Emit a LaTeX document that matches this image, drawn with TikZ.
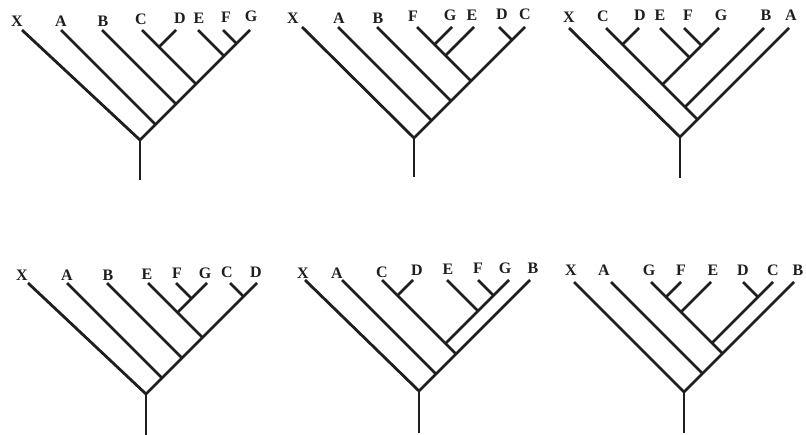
\documentclass[tikz,border=0pt]{standalone}
\usepackage{fontspec}
\setmainfont{Liberation Serif}
\definecolor{ink}{HTML}{1E1E1E}
\begin{document}
\begin{tikzpicture}[x=0.75pt,y=-0.75pt,
  br/.style={line width=2.1pt, draw=ink},
  lab/.style={font=\fontsize{12}{14}\selectfont\bfseries, inner sep=0pt, text=ink}]
\useasboundingbox (0,0) rectangle (806,435);
\fill[white] (0,0) rectangle (806,435);

% ---------- Tree 1 ----------
\foreach \n/\x in {X/22,A/61,B/102,C/142,D/176,E/198,F/223,G/250}
  \coordinate (a\n) at (\x,30);
\coordinate (ar) at (140,140);
\coordinate (as) at (140,180);
\coordinate (ajA) at (155.5,124.5);
\coordinate (ajB) at (176,104);
\coordinate (ajC) at (196,84);
\coordinate (ajD) at (159,47);
\coordinate (ajE) at (224,56);
\coordinate (ajF) at (236.5,43.5);
\draw[br] (aX) -- (ar);
\draw[br] (aG) -- (ar);
\draw[br] (aA) -- (ajA);
\draw[br] (aB) -- (ajB);
\draw[br] (aC) -- (ajC);
\draw[br] (aD) -- (ajD);
\draw[br] (aE) -- (ajE);
\draw[br] (aF) -- (ajF);
\draw[br] (ar) -- (as);
\node[lab] (laX) at (17,21) {X};
\node[lab] (laA) at (61,21) {A};
\node[lab] (laB) at (103,21) {B};
\node[lab] (laC) at (141,19) {C};
\node[lab] (laD) at (180,18) {D};
\node[lab] (laE) at (199,18) {E};
\node[lab] (laF) at (226,17) {F};
\node[lab] (laG) at (251,16) {G};

% ---------- Tree 2 ----------
\foreach \n/\x in {X/302,A/338,B/377,F/417,G/452,E/474,D/499,C/525}
  \coordinate (b\n) at (\x,27);
\coordinate (br) at (414,138);
\coordinate (bs) at (414,177);
\coordinate (bjA) at (431.5,120.5);
\coordinate (bjB) at (451,101);
\coordinate (bjF) at (471,81);
\coordinate (bjG) at (434.5,44.5);
\coordinate (bjE) at (445.5,55.5);
\coordinate (bjD) at (512,40);
\draw[br] (bX) -- (br);
\draw[br] (bC) -- (br);
\draw[br] (bA) -- (bjA);
\draw[br] (bB) -- (bjB);
\draw[br] (bF) -- (bjF);
\draw[br] (bG) -- (bjG);
\draw[br] (bE) -- (bjE);
\draw[br] (bD) -- (bjD);
\draw[br] (br) -- (bs);
\node[lab] (lbX) at (293,18) {X};
\node[lab] (lbA) at (339,18) {A};
\node[lab] (lbB) at (378,18) {B};
\node[lab] (lbF) at (413,16) {F};
\node[lab] (lbG) at (450,15) {G};
\node[lab] (lbE) at (472,15) {E};
\node[lab] (lbD) at (502,14) {D};
\node[lab] (lbC) at (525,14) {C};

% ---------- Tree 3 ----------
\foreach \n/\x in {X/569,C/606,D/639,E/660,F/684,G/719,B/764,A/789}
  \coordinate (c\n) at (\x,28);
\coordinate (cr) at (680,137);
\coordinate (cs) at (680,178);
\coordinate (cjC) at (697.5,119.5);
\coordinate (cjB) at (685,107);
\coordinate (cjG) at (662.5,84.5);
\coordinate (cjD) at (622.5,44.5);
\coordinate (cjE) at (689.5,57.5);
\coordinate (cjF) at (701.5,45.5);
\draw[br] (cX) -- (cr);
\draw[br] (cA) -- (cr);
\draw[br] (cC) -- (cjC);
\draw[br] (cB) -- (cjB);
\draw[br] (cG) -- (cjG);
\draw[br] (cD) -- (cjD);
\draw[br] (cE) -- (cjE);
\draw[br] (cF) -- (cjF);
\draw[br] (cr) -- (cs);
\node[lab] (lcX) at (569,17) {X};
\node[lab] (lcC) at (603,16) {C};
\node[lab] (lcD) at (640,15) {D};
\node[lab] (lcE) at (660,15) {E};
\node[lab] (lcF) at (688,15) {F};
\node[lab] (lcG) at (721,15) {G};
\node[lab] (lcB) at (766,15) {B};
\node[lab] (lcA) at (791,15) {A};

% ---------- Tree 4 ----------
\foreach \n/\x in {X/28,A/67,B/107,E/148,F/176,G/207,C/230,D/257}
  \coordinate (d\n) at (\x,283);
\coordinate (dr) at (146,394);
\coordinate (ds) at (146,435);
\coordinate (djA) at (162,378);
\coordinate (djB) at (182,358);
\coordinate (djE) at (202.5,337.5);
\coordinate (djG) at (177.5,312.5);
\coordinate (djF) at (191.5,298.5);
\coordinate (djC) at (243.5,296.5);
\draw[br] (dX) -- (dr);
\draw[br] (dD) -- (dr);
\draw[br] (dA) -- (djA);
\draw[br] (dB) -- (djB);
\draw[br] (dE) -- (djE);
\draw[br] (dG) -- (djG);
\draw[br] (dF) -- (djF);
\draw[br] (dC) -- (djC);
\draw[br] (dr) -- (ds);
\node[lab] (ldX) at (22,275) {X};
\node[lab] (ldA) at (67,275) {A};
\node[lab] (ldB) at (108,275) {B};
\node[lab] (ldE) at (147,274) {E};
\node[lab] (ldF) at (177,273) {F};
\node[lab] (ldG) at (205,273) {G};
\node[lab] (ldC) at (227,272) {C};
\node[lab] (ldD) at (256,272) {D};

% ---------- Tree 5 ----------
\foreach \n/\x in {X/305,A/342,C/382,D/413,E/447,F/478,G/509,B/530}
  \coordinate (e\n) at (\x,280);
\coordinate (er) at (419,391);
\coordinate (es) at (419,433);
\coordinate (ejA) at (436,374);
\coordinate (ejC) at (456,354);
\coordinate (ejG) at (445.5,343.5);
\coordinate (ejD) at (397.5,295.5);
\coordinate (ejF) at (493.5,295.5);
\coordinate (ejE) at (478,311);
\draw[br] (eX) -- (er);
\draw[br] (eB) -- (er);
\draw[br] (eA) -- (ejA);
\draw[br] (eC) -- (ejC);
\draw[br] (eG) -- (ejG);
\draw[br] (eD) -- (ejD);
\draw[br] (eF) -- (ejF);
\draw[br] (eE) -- (ejE);
\draw[br] (er) -- (es);
\node[lab] (leX) at (303,273) {X};
\node[lab] (leA) at (337,273) {A};
\node[lab] (leC) at (382,272) {C};
\node[lab] (leD) at (417,270) {D};
\node[lab] (leE) at (448,269) {E};
\node[lab] (leF) at (478,268) {F};
\node[lab] (leG) at (505,268) {G};
\node[lab] (leB) at (533,268) {B};

% ---------- Tree 6 ----------
\foreach \n/\x in {X/574,A/611,G/651,F/681,E/711,D/743,C/773,B/794}
  \coordinate (f\n) at (\x,282);
\coordinate (fr) at (684,392);
\coordinate (fs) at (684,433);
\coordinate (fjA) at (702.5,373.5);
\coordinate (fjG) at (722.5,353.5);
\coordinate (fjC) at (712,343);
\coordinate (fjF) at (666,297);
\coordinate (fjE) at (681,312);
\coordinate (fjD) at (758,297);
\draw[br] (fX) -- (fr);
\draw[br] (fB) -- (fr);
\draw[br] (fA) -- (fjA);
\draw[br] (fG) -- (fjG);
\draw[br] (fC) -- (fjC);
\draw[br] (fF) -- (fjF);
\draw[br] (fE) -- (fjE);
\draw[br] (fD) -- (fjD);
\draw[br] (fr) -- (fs);
\node[lab] (lfX) at (571,270) {X};
\node[lab] (lfA) at (604,270) {A};
\node[lab] (lfG) at (649,270) {G};
\node[lab] (lfF) at (681,270) {F};
\node[lab] (lfE) at (713,270) {E};
\node[lab] (lfD) at (743,270) {D};
\node[lab] (lfC) at (773,270) {C};
\node[lab] (lfB) at (798,270) {B};
\end{tikzpicture}
\end{document}
